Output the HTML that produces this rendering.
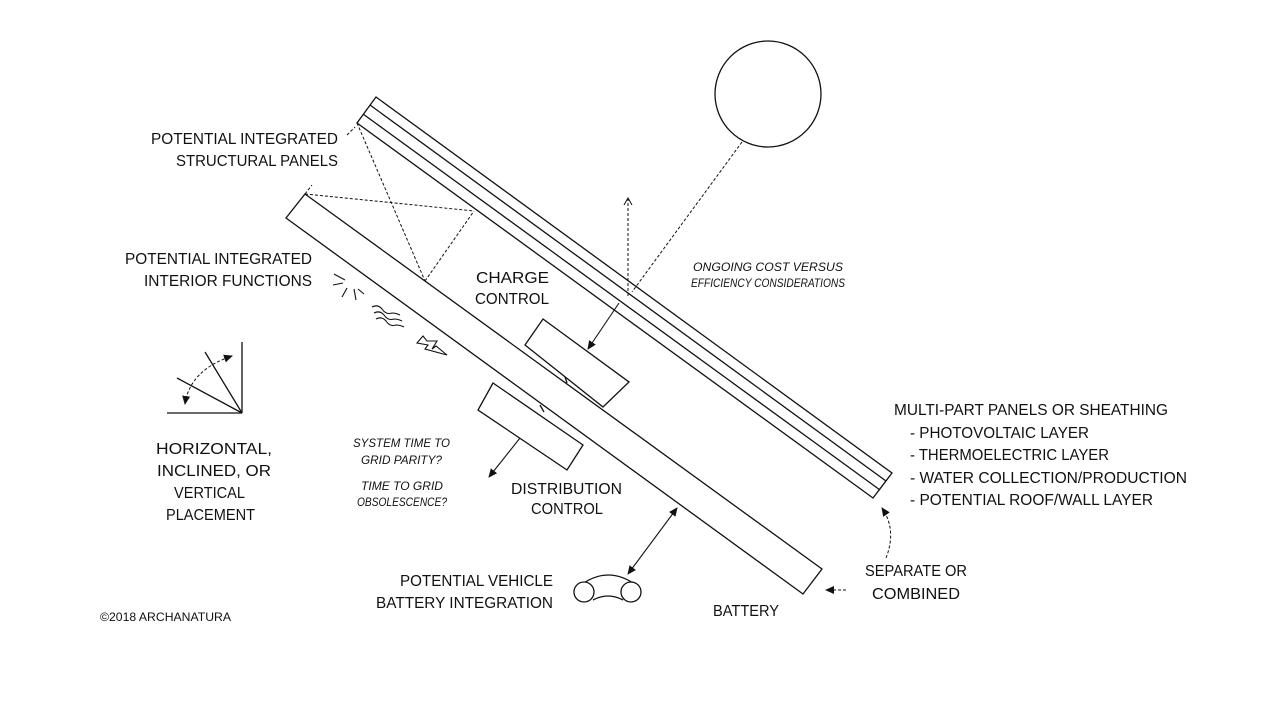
<!DOCTYPE html>
<html><head><meta charset="utf-8"><style>
html,body{margin:0;padding:0;background:#fff;}
svg{display:block;}
text{font-family:"Liberation Sans",sans-serif;font-size:16px;fill:#111;}
.i{font-style:italic;font-size:12px;}
</style></head><body>
<svg width="1280" height="720" viewBox="0 0 1280 720" xmlns="http://www.w3.org/2000/svg">
<defs>
<marker id="ah" markerWidth="10" markerHeight="10" refX="8" refY="5" orient="auto" markerUnits="userSpaceOnUse"><path d="M0,1 L9,5 L0,9 Z" fill="#111"/></marker>
<marker id="ahs" markerWidth="10" markerHeight="10" refX="2" refY="5" orient="auto" markerUnits="userSpaceOnUse"><path d="M10,1 L1,5 L10,9 Z" fill="#111"/></marker>
<marker id="ao" markerWidth="10" markerHeight="10" refX="8" refY="5" orient="auto" markerUnits="userSpaceOnUse"><path d="M1,1 L8,5 L1,9" fill="none" stroke="#111" stroke-width="1"/></marker>
</defs>
<g stroke="#111" stroke-width="1.3" fill="none">
<polygon points="376,97 892,473 873,498 357,123"/>
<line x1="370" y1="105" x2="886" y2="481"/>
<line x1="363" y1="114" x2="880" y2="490"/>
<polygon points="305,194 822,569 803,594 286,218"/>
<polygon points="543,319 629,382 603,407 525,345"/>
<line x1="565" y1="377" x2="567" y2="383"/>
<polygon points="493,383 583,445 567,470 478,410"/>
<line x1="540" y1="405" x2="544" y2="412"/>
<circle cx="768" cy="94" r="53"/>
<line x1="242" y1="342" x2="242" y2="413"/>
<line x1="167" y1="413" x2="242" y2="413"/>
<line x1="242" y1="413" x2="205" y2="352"/>
<line x1="242" y1="413" x2="177" y2="378"/>
<!-- car -->
<path d="M577,588 Q608,562 640,588"/>
<path d="M593,600 Q608,592 623,600"/>
<circle cx="584" cy="592" r="10" fill="#fff"/>
<circle cx="631" cy="592" r="10" fill="#fff"/>
</g>
<g stroke="#111" stroke-width="1" fill="none" stroke-dasharray="3,2">
<line x1="357" y1="123" x2="425" y2="281"/>
<line x1="425" y1="281" x2="474" y2="211"/>
<line x1="305" y1="194" x2="474" y2="211"/>
<line x1="347" y1="135" x2="355" y2="127"/>
<line x1="305" y1="194" x2="312" y2="185"/>
<line x1="742" y1="142" x2="632" y2="292"/>
<line x1="628" y1="296" x2="628" y2="198" marker-end="url(#ao)"/>
<path d="M185,404 Q190,370 232,356" marker-end="url(#ah)" marker-start="url(#ahs)"/>
<path d="M886,558 Q897,530 882,508" marker-end="url(#ah)"/>
<line x1="846" y1="590" x2="826" y2="590" marker-end="url(#ah)"/>
</g>
<g stroke="#111" stroke-width="1.1" fill="none">
<line x1="619" y1="303" x2="588" y2="349" marker-end="url(#ah)"/>
<line x1="520" y1="438" x2="489" y2="477" marker-end="url(#ah)"/>
<line x1="677" y1="508" x2="628" y2="574" marker-end="url(#ah)" marker-start="url(#ahs)"/>
<line x1="334" y1="274" x2="345" y2="280"/>
<line x1="333" y1="285" x2="343" y2="283"/>
<line x1="347" y1="288" x2="342" y2="297"/>
<line x1="354" y1="289" x2="356" y2="300"/>
<line x1="358" y1="289" x2="364" y2="294"/>
<path d="M372,307 q6,-3 10,2 q4,6 10,4 q4,0 8,2"/>
<path d="M374,313 q6,-3 10,2 q4,6 10,4 q4,0 8,2"/>
<path d="M376,319 q6,-3 10,2 q4,6 10,4 q4,0 8,2"/>
<path d="M423,336 L417,343 L428,345 L425,349 L447,355 L436,346 L432,349 L437,341 L427,341 Z"/>
</g>
<text x="151" y="144" textLength="187" lengthAdjust="spacingAndGlyphs">POTENTIAL INTEGRATED</text>
<text x="176" y="166" textLength="162" lengthAdjust="spacingAndGlyphs">STRUCTURAL PANELS</text>
<text x="125" y="264" textLength="187" lengthAdjust="spacingAndGlyphs">POTENTIAL INTEGRATED</text>
<text x="144" y="286" textLength="168" lengthAdjust="spacingAndGlyphs">INTERIOR FUNCTIONS</text>
<text x="476" y="283" textLength="73" lengthAdjust="spacingAndGlyphs">CHARGE</text>
<text x="475" y="304" textLength="74" lengthAdjust="spacingAndGlyphs">CONTROL</text>
<text class="i" x="693" y="271" textLength="150" lengthAdjust="spacingAndGlyphs">ONGOING COST VERSUS</text>
<text class="i" x="691" y="287" textLength="154" lengthAdjust="spacingAndGlyphs">EFFICIENCY CONSIDERATIONS</text>
<text x="894" y="415" textLength="274" lengthAdjust="spacingAndGlyphs">MULTI-PART PANELS OR SHEATHING</text>
<text x="910" y="438" textLength="179" lengthAdjust="spacingAndGlyphs">- PHOTOVOLTAIC LAYER</text>
<text x="910" y="460" textLength="199" lengthAdjust="spacingAndGlyphs">- THERMOELECTRIC LAYER</text>
<text x="910" y="483" textLength="277" lengthAdjust="spacingAndGlyphs">- WATER COLLECTION/PRODUCTION</text>
<text x="910" y="505" textLength="243" lengthAdjust="spacingAndGlyphs">- POTENTIAL ROOF/WALL LAYER</text>
<text x="156" y="454" textLength="116" lengthAdjust="spacingAndGlyphs">HORIZONTAL,</text>
<text x="157" y="476" textLength="114" lengthAdjust="spacingAndGlyphs">INCLINED, OR</text>
<text x="174" y="498" textLength="71" lengthAdjust="spacingAndGlyphs">VERTICAL</text>
<text x="166" y="520" textLength="89" lengthAdjust="spacingAndGlyphs">PLACEMENT</text>
<text class="i" x="353" y="447" textLength="97" lengthAdjust="spacingAndGlyphs">SYSTEM TIME TO</text>
<text class="i" x="361" y="464" textLength="81" lengthAdjust="spacingAndGlyphs">GRID PARITY?</text>
<text class="i" x="361" y="490" textLength="82" lengthAdjust="spacingAndGlyphs">TIME TO GRID</text>
<text class="i" x="357" y="506" textLength="90" lengthAdjust="spacingAndGlyphs">OBSOLESCENCE?</text>
<text x="511" y="494" textLength="111" lengthAdjust="spacingAndGlyphs">DISTRIBUTION</text>
<text x="531" y="514" textLength="72" lengthAdjust="spacingAndGlyphs">CONTROL</text>
<text x="400" y="586" textLength="153" lengthAdjust="spacingAndGlyphs">POTENTIAL VEHICLE</text>
<text x="376" y="608" textLength="177" lengthAdjust="spacingAndGlyphs">BATTERY INTEGRATION</text>
<text x="713" y="616" textLength="66" lengthAdjust="spacingAndGlyphs">BATTERY</text>
<text x="865" y="576" textLength="102" lengthAdjust="spacingAndGlyphs">SEPARATE OR</text>
<text x="872" y="599" textLength="88" lengthAdjust="spacingAndGlyphs">COMBINED</text>
<text x="100" y="621" style="font-size:12px" textLength="131" lengthAdjust="spacingAndGlyphs">©2018 ARCHANATURA</text>
</svg>
</body></html>
